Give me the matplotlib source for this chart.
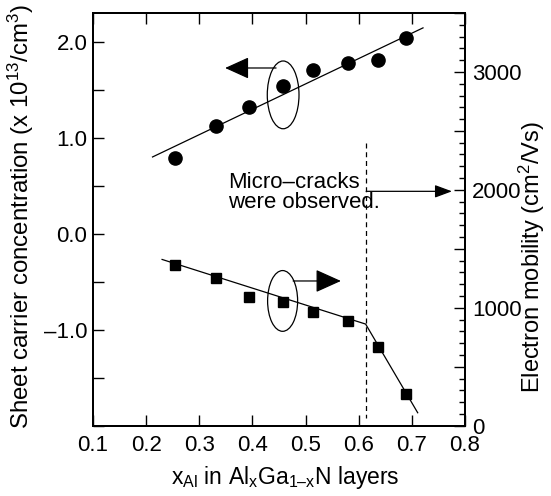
import numpy as np
import matplotlib
matplotlib.use("Agg")
from matplotlib import pyplot as plt
from matplotlib.patches import Ellipse
from matplotlib.ticker import MultipleLocator, FuncFormatter

plt.rcParams['font.family'] = ['Liberation Sans', 'DejaVu Sans']
plt.rcParams['mathtext.fontset'] = 'custom'
plt.rcParams['mathtext.rm'] = 'Liberation Sans'
plt.rcParams['mathtext.it'] = 'Liberation Sans'

# Al content of the AlGaN layers
x_al = [0.255, 0.332, 0.393, 0.457, 0.514, 0.579, 0.637, 0.689]
# sheet carrier concentration (x 10^13 /cm^3), left axis
conc = [0.79, 1.12, 1.32, 1.54, 1.71, 1.78, 1.81, 2.04]
# electron mobility (cm^2/Vs), right axis
mobility = [1362, 1249, 1088, 1051, 966, 887, 669, 269]

# guide lines drawn in the original
conc_fit_x = [0.212, 0.721]
conc_fit_y = [0.80, 2.145]
mob_fit_x = [0.230, 0.613, 0.711]
mob_fit_y = [1410, 862, 110]
crack_x = 0.614

fig = plt.figure(figsize=(5.51, 4.96), dpi=100)
ax = fig.add_axes([0.1688, 0.1417, 0.6751, 0.8321])
ax2 = ax.twinx()

fs = 16
ax.plot(conc_fit_x, conc_fit_y, color='black', lw=0.9)
ax.plot(x_al, conc, 'o', color='black', ms=9.5)
ax2.plot(mob_fit_x, mob_fit_y, color='black', lw=0.9)
ax2.plot(x_al, mobility, 's', color='black', ms=7.5)

ax.set_xlim(0.1, 0.8)
ax.set_ylim(-2.0, 2.3)
ax2.set_ylim(0, 3500)

# dashed line where cracks appear
ax.plot([crack_x, crack_x], [0.948, -1.92], color='black', lw=0.9, ls=(0, (4, 3)))

# ellipses marking the data sets
ax.add_patch(Ellipse((0.4578, 1.447), 0.0597, 0.706, fill=False, lw=0.9, ec='black'))
ax.add_patch(Ellipse((0.4568, -0.70), 0.0565, 0.633, fill=False, lw=0.9, ec='black'))

ax.annotate('', xy=(0.3486, 1.727), xytext=(0.4445, 1.727),
            arrowprops=dict(arrowstyle='-|>,head_length=0.75,head_width=0.34',
                            mutation_scale=20, color='black', lw=0.9,
                            shrinkA=0, shrinkB=0))
ax.annotate('', xy=(0.5665, -0.492), xytext=(0.4766, -0.492),
            arrowprops=dict(arrowstyle='-|>,head_length=0.8,head_width=0.36',
                            mutation_scale=20, color='black', lw=0.9,
                            shrinkA=0, shrinkB=0))
ax.annotate('', xy=(0.7755, 0.442), xytext=(crack_x, 0.442),
            arrowprops=dict(arrowstyle='-|>,head_length=0.7,head_width=0.26',
                            mutation_scale=15, color='black', lw=0.9,
                            shrinkA=0, shrinkB=0))
ax.text(0.3542, 0.43, 'Micro\u2013cracks\nwere observed.', fontsize=fs,
        ha='left', va='center', linespacing=0.95)

# ticks
ax.xaxis.set_major_locator(MultipleLocator(0.1))
ax.xaxis.set_major_formatter(FuncFormatter(lambda v, p: '%.1f' % v))
ax.yaxis.set_major_locator(MultipleLocator(0.5))
ax.yaxis.set_major_formatter(FuncFormatter(
    lambda v, p: ('%.1f' % v).replace('-', '\u2013')
    if abs(v - round(v)) < 1e-6 and v > -1.5 else ''))
ax.tick_params(axis='both', direction='in', length=8, width=1.0, labelsize=fs,
               top=True, pad=7)
ax.tick_params(axis='y', pad=4)

ax2.yaxis.set_major_locator(MultipleLocator(500))
ax2.yaxis.set_minor_locator(MultipleLocator(100))
ax2.yaxis.set_major_formatter(FuncFormatter(
    lambda v, p: '%d' % v if v % 1000 == 0 else ''))
ax2.tick_params(axis='y', which='major', direction='in', length=8, width=1.0,
                labelsize=fs, pad=5)
ax2.tick_params(axis='y', which='minor', direction='in', length=4, width=1.0)

for a in (ax, ax2):
    for s in a.spines.values():
        s.set_linewidth(1.4)

ax.set_xlabel('x$_{\\mathrm{Al}}$ in Al$_{\\mathrm{x}}$Ga$_{\\mathrm{1\u2013x}}$N layers',
              fontsize=16.5)
ax.xaxis.set_label_coords(0.516, -0.092)
ax.set_ylabel(r'Sheet carrier concentration (x 10$^{13}$/cm$^{3}$)', fontsize=17.3)
ax.yaxis.set_label_coords(-0.152, 0.508)
ax2.set_ylabel(r'Electron mobility (cm$^{2}$/Vs)', fontsize=17)
ax2.yaxis.set_label_coords(1.14, 0.409)

plt.savefig('out.png', dpi=100)
